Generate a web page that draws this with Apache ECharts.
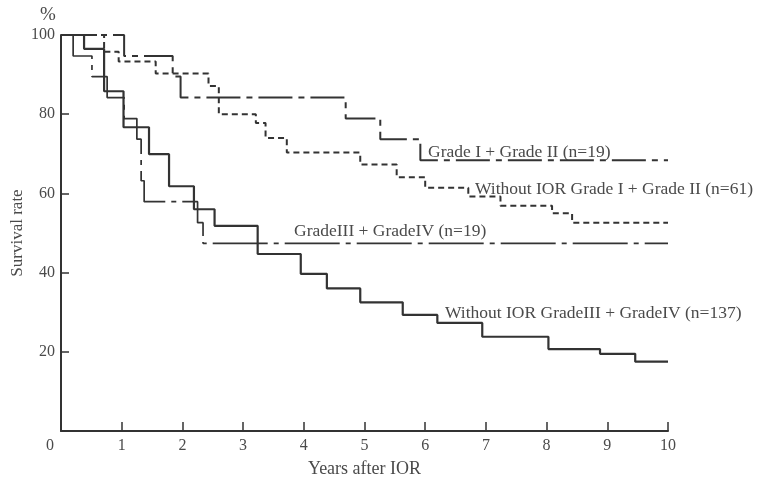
<!DOCTYPE html>
<html>
<head>
<meta charset="utf-8">
<script src="https://cdn.jsdelivr.net/npm/echarts@6/dist/echarts.min.js"></script>
<style>
html,body{margin:0;padding:0;background:#fff;}
#c{width:763px;height:485px;}
</style>
</head>
<body>
<div id="c"></div>
<script>
// Years after IOR (step times) and survival rate (%) for each group
var gradeI_II_times = [0, 1.04, 1.84, 1.97, 4.69, 5.26, 5.92, 10];
var gradeI_II_surv  = [100, 94.7, 89.5, 84.2, 78.9, 73.7, 68.4, 68.4];

var noIor_I_II_times = [0, 0.71, 0.95, 1.56, 2.43, 2.6, 3.21, 3.37, 3.72, 4.93, 5.53, 6.0, 6.71, 7.24, 8.09, 8.42, 10];
var noIor_I_II_surv  = [100, 95.8, 93.3, 90.3, 87.1, 80.0, 77.8, 74.0, 70.3, 67.3, 64.1, 61.4, 59.2, 56.9, 55.0, 52.6, 52.6];

var gradeIII_IV_times = [0, 0.2, 0.51, 0.76, 1.04, 1.25, 1.32, 1.37, 2.25, 2.34, 10];
var gradeIII_IV_surv  = [100, 94.7, 89.5, 84.2, 78.9, 73.7, 63.2, 57.9, 52.6, 47.4, 47.4];

var noIor_III_IV_times = [0, 0.38, 0.71, 1.03, 1.45, 1.78, 2.19, 2.53, 3.24, 3.95, 4.38, 4.93, 5.63, 6.2, 6.94, 8.03, 8.88, 9.46, 10];
var noIor_III_IV_surv  = [100, 96.5, 85.8, 76.7, 69.9, 61.8, 56.0, 51.8, 44.7, 39.7, 36.0, 32.5, 29.3, 27.3, 23.8, 20.7, 19.5, 17.5, 17.5];

var xTicks = [0, 1, 2, 3, 4, 5, 6, 7, 8, 9, 10];
var yTicks = [20, 40, 60, 80, 100];

var seriesNames = [
  'Grade I + Grade II (n=19)',
  'Without IOR Grade I + Grade II (n=61)',
  'GradeIII + GradeIV (n=19)',
  'Without IOR GradeIII + GradeIV (n=137)'
];

function pairs(t, s) { return t.map(function (v, i) { return [v, s[i]]; }); }

var FONT = '"Liberation Serif", serif';
var INK = '#333';
var TXT = '#4a4a4a';

var chart = echarts.init(document.getElementById('c'), null, {renderer: 'canvas'});

function build() {
  return {
    backgroundColor: '#fff',
    animation: false,
    grid: {left: 61, top: 35, width: 607, height: 396, containLabel: false, outerBoundsMode: 'none'},
    xAxis: {
      type: 'value', min: 0, max: 10, interval: 1,
      name: 'Years after IOR', nameLocation: 'middle', nameGap: 29, nameMoveOverlap: false,
      nameTextStyle: {fontFamily: FONT, fontSize: 18, color: TXT},
      axisLine: {lineStyle: {color: INK, width: 2}},
      axisTick: {inside: true, length: 9, lineStyle: {color: INK, width: 1.5}},
      axisLabel: {
        fontFamily: FONT, fontSize: 16, color: TXT, margin: 7,
        formatter: function (v) { return v === 0 ? '{z|0}' : String(v); },
        rich: {z: {fontFamily: FONT, fontSize: 16, color: TXT, padding: [0, 22, 0, 0]}}
      },
      splitLine: {show: false}
    },
    yAxis: {
      type: 'value', min: 0, max: 100, interval: 20,
      name: 'Survival rate', nameLocation: 'middle', nameGap: 35, nameMoveOverlap: false,
      nameTextStyle: {fontFamily: FONT, fontSize: 17, color: TXT},
      axisLine: {show: true, lineStyle: {color: INK, width: 2}},
      axisTick: {inside: true, length: 8, lineStyle: {color: INK, width: 1.5}},
      axisLabel: {
        fontFamily: FONT, fontSize: 16, color: TXT, margin: 6,
        formatter: function (v) { return yTicks.indexOf(v) >= 0 ? String(v) : ''; }
      },
      splitLine: {show: false}
    },
    graphic: [
      {type: 'text', left: 40, top: 6, style: {text: '%', fontFamily: FONT, fontSize: 19, fill: TXT}},
      {type: 'text', x: 428, y: 152, style: {text: seriesNames[0], fontFamily: FONT, fontSize: 17.5, fill: TXT, textVerticalAlign: 'middle'}},
      {type: 'text', x: 475, y: 189, style: {text: seriesNames[1], fontFamily: FONT, fontSize: 17.5, fill: TXT, textVerticalAlign: 'middle'}},
      {type: 'text', x: 294, y: 231, style: {text: seriesNames[2], fontFamily: FONT, fontSize: 17.5, fill: TXT, textVerticalAlign: 'middle'}},
      {type: 'text', x: 445, y: 313, style: {text: seriesNames[3], fontFamily: FONT, fontSize: 17.5, fill: TXT, textVerticalAlign: 'middle'}}
    ],
    series: [
      {name: seriesNames[0], type: 'line', step: 'end', symbol: 'none',
       data: pairs(gradeI_II_times, gradeI_II_surv),
       lineStyle: {color: INK, width: 2, type: [34, 6, 6, 6]}},
      {name: seriesNames[1], type: 'line', step: 'end', symbol: 'none',
       data: pairs(noIor_I_II_times, noIor_I_II_surv),
       lineStyle: {color: INK, width: 2, type: [6, 4]}},
      {name: seriesNames[2], type: 'line', step: 'end', symbol: 'none',
       data: pairs(gradeIII_IV_times, gradeIII_IV_surv),
       lineStyle: {color: INK, width: 1.7, type: [55, 6, 5, 6]}},
      {name: seriesNames[3], type: 'line', step: 'end', symbol: 'none',
       data: pairs(noIor_III_IV_times, noIor_III_IV_surv),
       lineStyle: {color: INK, width: 2.2}}
    ]
  };
}
chart.setOption(build());
if (document.fonts && document.fonts.load) {
  document.fonts.load('16px "Liberation Serif"').then(function () {
    chart.clear();
    chart.setOption(build());
  });
}
</script>
</body>
</html>
